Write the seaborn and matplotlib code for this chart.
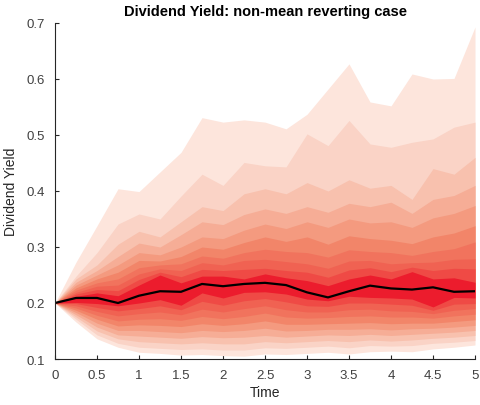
import numpy as np
import pandas as pd
import matplotlib
matplotlib.use("Agg")
import matplotlib.pyplot as plt
import seaborn as sns

# time grid and median path
time = [0, 0.25, 0.5, 0.75, 1, 1.25, 1.5, 1.75, 2, 2.25, 2.5,
        2.75, 3, 3.25, 3.5, 3.75, 4, 4.25, 4.5, 4.75, 5]
median = [.200, .209, .209, .200, .213, .221, .220, .234, .230, .234, .236,
          .232, .219, .210, .221, .231, .226, .224, .228, .220, .221]

# upper quantile edges, innermost (U1) to outermost (U10)
U1 = [.200, .212, .218, .213, .232, .250, .236, .248, .248, .243, .252,
      .245, .240, .231, .243, .250, .243, .256, .243, .245, .237]
U2 = [.200, .216, .224, .222, .242, .255, .247, .260, .258, .260, .262,
      .258, .255, .246, .259, .263, .256, .264, .258, .262, .261]
U3 = [.200, .219, .230, .232, .252, .261, .258, .272, .268, .276, .278,
      .274, .270, .262, .275, .276, .270, .272, .273, .278, .279]
U4 = [.200, .223, .236, .243, .263, .268, .270, .284, .280, .290, .296,
      .292, .290, .282, .295, .292, .290, .285, .292, .297, .309]
U5 = [.200, .227, .243, .255, .276, .275, .283, .300, .296, .308, .318,
      .310, .318, .305, .320, .315, .312, .306, .318, .325, .338]
U6 = [.200, .232, .250, .268, .290, .286, .300, .318, .315, .330, .341,
      .333, .345, .335, .350, .343, .345, .335, .352, .360, .374]
U7 = [.200, .237, .258, .283, .307, .300, .322, .345, .340, .358, .368,
      .360, .372, .362, .378, .372, .380, .360, .385, .392, .410]
U8 = [.200, .243, .268, .305, .328, .318, .345, .372, .365, .395, .404,
      .395, .415, .400, .420, .405, .410, .385, .440, .430, .460]
U9 = [.200, .248, .290, .341, .359, .350, .391, .430, .410, .451, .445,
      .443, .502, .481, .526, .484, .478, .487, .493, .514, .523]
U10 = [.200, .273, .338, .404, .399, .434, .469, .531, .523, .527, .523,
       .511, .537, .582, .627, .559, .552, .609, .600, .601, .693]

# lower quantile edges, innermost (L1) to outermost (L10)
L1 = [.200, .201, .199, .195, .200, .206, .196, .218, .209, .219, .220,
      .216, .207, .204, .212, .210, .209, .207, .193, .210, .209]
L2 = [.200, .199, .192, .186, .190, .195, .188, .203, .196, .204, .208,
      .202, .195, .194, .200, .200, .198, .196, .187, .198, .199]
L3 = [.200, .195, .185, .177, .181, .184, .179, .189, .184, .190, .195,
      .188, .184, .184, .188, .189, .186, .185, .181, .187, .190]
L4 = [.200, .191, .178, .168, .171, .172, .169, .176, .172, .176, .182,
      .175, .173, .174, .176, .177, .175, .175, .173, .177, .180]
L5 = [.200, .187, .171, .159, .161, .160, .158, .163, .160, .163, .168,
      .162, .162, .163, .164, .165, .163, .164, .164, .167, .170]
L6 = [.200, .183, .164, .151, .151, .149, .147, .151, .149, .151, .155,
      .150, .151, .153, .153, .154, .152, .154, .155, .157, .160]
L7 = [.200, .179, .157, .143, .141, .139, .137, .140, .138, .139, .142,
      .139, .141, .143, .142, .144, .142, .144, .146, .148, .151]
L8 = [.200, .175, .150, .136, .131, .129, .127, .129, .127, .127, .131,
      .129, .131, .133, .131, .134, .132, .134, .137, .139, .142]
L9 = [.200, .171, .143, .128, .121, .119, .117, .118, .116, .116, .120,
      .119, .121, .123, .120, .124, .123, .124, .128, .130, .133]
L10 = [.200, .166, .136, .121, .112, .110, .107, .108, .106, .105, .109,
       .108, .110, .112, .109, .113, .114, .113, .118, .121, .125]

uppers = [U1, U2, U3, U4, U5, U6, U7, U8, U9, U10]
lowers = [L1, L2, L3, L4, L5, L6, L7, L8, L9, L10]

# band colours, centre (strong red) to tails (pale salmon)
band_colors = ["#ec1c2d", "#ef4a45", "#f06252", "#f1735d", "#f28569",
               "#f49a7f", "#f6ad96", "#f8c1ae", "#fad3c6", "#fde5dc"]

sns.set_style("ticks")
plt.rcParams['font.family'] = ['Liberation Sans', 'DejaVu Sans']

fig = plt.figure(figsize=(4.8, 4.06), dpi=100)
ax = fig.add_axes([0.1146, 0.1133, 0.875, 0.8276])

# outermost first so inner bands sit on top
for i in range(len(uppers) - 1, -1, -1):
    ax.fill_between(time, lowers[i], uppers[i], color=band_colors[i], linewidth=0)

df = pd.DataFrame({"Time": time, "Median": median})
sns.lineplot(data=df, x="Time", y="Median", color="black", linewidth=1.6, ax=ax)

ax.set_xlim(0, 5)
ax.set_ylim(0.1, 0.7)
ax.set_xticks(np.arange(0, 5.01, 0.5))
ax.set_xticklabels(["0", "0.5", "1", "1.5", "2", "2.5", "3", "3.5", "4", "4.5", "5"])
ax.set_yticks(np.arange(0.1, 0.71, 0.1))
ax.set_yticklabels(["0.1", "0.2", "0.3", "0.4", "0.5", "0.6", "0.7"])
ax.tick_params(direction="in", length=3, width=0.8, colors="#262626",
               labelcolor="#404040", labelsize=9.5, pad=7)
for side in ["top", "right"]:
    ax.spines[side].set_visible(False)
for side in ["left", "bottom"]:
    ax.spines[side].set_color("#262626")
    ax.spines[side].set_linewidth(0.8)

ax.set_xlabel("Time", fontsize=10, color="#262626", labelpad=3)
ax.set_ylabel("Dividend Yield", fontsize=10, color="#262626", labelpad=6)
ax.set_title("Dividend Yield: non-mean reverting case", fontsize=10.5,
             fontweight="bold", color="black", pad=6)

fig.savefig("out.png", dpi=100)
